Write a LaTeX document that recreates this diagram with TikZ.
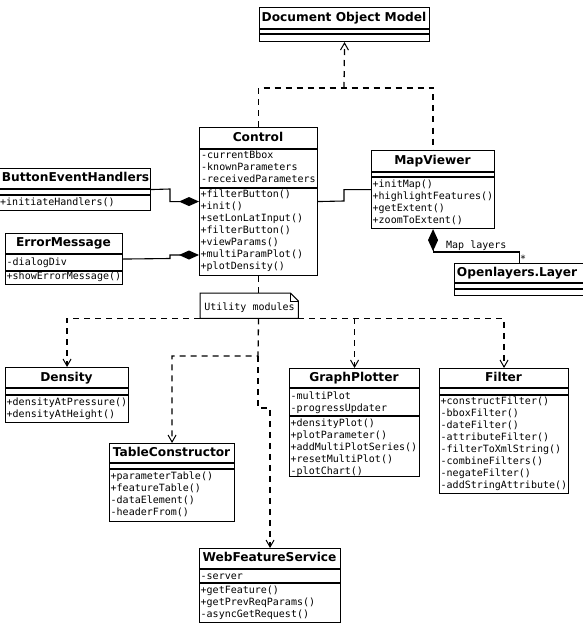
\documentclass[tikz,border=0pt]{standalone}
\usepackage{fontspec}
\setmainfont{DejaVu Sans}
\newfontfamily\monofam{DejaVu Sans Mono}
\usetikzlibrary{arrows.meta,calc}
\tikzset{
  clsbox/.style={draw, line width=1.1pt, inner sep=0pt, anchor=north west},
  ttl/.style={font=\fontsize{12.2}{13}\selectfont\bfseries, inner sep=0pt, text height=9pt, text depth=2.5pt},
  mem/.style={font=\monofam\fontsize{10}{11}\selectfont, inner sep=0pt, anchor=west, text height=7.2pt, text depth=2.2pt},
  div/.style={line width=1.1pt},
  dep/.style={line width=1.3pt, dash pattern=on 6pt off 5pt},
  deparrow/.style={-{Straight Barb[length=7pt,width=8pt,line width=1pt]}},
  comp/.style={line width=1.1pt},
}
\begin{document}
\begin{tikzpicture}[x=1pt,y=-1pt]
\useasboundingbox (0,0) rectangle (582,623);

% Document Object Model
\node[clsbox, minimum width=170pt, minimum height=34pt] (dom) at (259,7) {};
\node[ttl] (dom-t) at (344,18) {Document Object Model};
\draw[div] (dom.west |- 0,29) -- (dom.east |- 0,29);
\draw[div] (dom.west |- 0,34) -- (dom.east |- 0,34);

% Control
\node[clsbox, minimum width=118pt, minimum height=148pt] (ctrl) at (199,127) {};
\node[ttl] (ctrl-t) at (258,138) {Control};
\draw[div] (ctrl.west |- 0,149) -- (ctrl.east |- 0,149);
\draw[div] (ctrl.west |- 0,188) -- (ctrl.east |- 0,188);
\foreach [count=\i] \t in {-currentBbox,-knownParameters,-receivedParameters}
  \node[mem] (ctrl-a\i) at (201,{144+12*\i}) {\t};
\foreach [count=\i] \t in {+filterButton(),+init(),+setLonLatInput(),+filterButton(),+viewParams(),+multiParamPlot(),+plotDensity()}
  \node[mem] (ctrl-m\i) at (200.5,{183+12*\i}) {\t};

% ButtonEventHandlers
\node[clsbox, minimum width=152pt, minimum height=42pt] (beh) at (-2,168) {};
\node[ttl] (beh-t) at (75.5,178) {ButtonEventHandlers};
\draw[div] (beh.west |- 0,189) -- (beh.east |- 0,189);
\draw[div] (beh.west |- 0,195) -- (beh.east |- 0,195);
\node[mem] (beh-m1) at (0,203) {+initiateHandlers()};

% ErrorMessage
\node[clsbox, minimum width=117pt, minimum height=51pt] (em) at (5,233) {};
\node[ttl] (em-t) at (63.5,243.5) {ErrorMessage};
\draw[div] (em.west |- 0,254) -- (em.east |- 0,254);
\draw[div] (em.west |- 0,271) -- (em.east |- 0,271);
\node[mem] (em-a1) at (6.5,262.5) {-dialogDiv};
\node[mem] (em-m1) at (6.5,277) {+showErrorMessage()};

% MapViewer
\node[clsbox, minimum width=123pt, minimum height=78pt] (mv) at (371,150) {};
\node[ttl] (mv-t) at (432.5,161) {MapViewer};
\draw[div] (mv.west |- 0,172) -- (mv.east |- 0,172);
\draw[div] (mv.west |- 0,177) -- (mv.east |- 0,177);
\foreach [count=\i] \t in {+initMap(),+highlightFeatures(),+getExtent(),+zoomToExtent()}
  \node[mem] (mv-m\i) at (372.5,{173+12*\i}) {\t};

% Openlayers.Layer
\node[clsbox, minimum width=130pt, minimum height=32pt] (ol) at (454,263) {};
\node[ttl] (ol-t) at (517,273) {Openlayers.Layer};
\draw[div] (ol.west |- 0,283) -- (ol.east |- 0,283);
\draw[div] (ol.west |- 0,289) -- (ol.east |- 0,289);

% Note
\node[minimum width=98pt, minimum height=25pt, inner sep=0pt, anchor=north west] (note) at (200,293) {};
\draw[line width=1pt] (note.north west) -- ($(note.north east)+(-8,0)$) -- ($(note.north east)+(0,8)$) -- (note.south east) -- (note.south west) -- cycle;
\draw[line width=0.7pt] ($(note.north east)+(-8,0)$) -- ($(note.north east)+(-8,8)$) -- ($(note.north east)+(0,8)$);
\node[mem, anchor=center] (note-t) at (249.5,308) {Utility modules};

% Density
\node[clsbox, minimum width=123pt, minimum height=55pt] (den) at (5,367) {};
\node[ttl] (den-t) at (66.5,378) {Density};
\draw[div] (den.west |- 0,388) -- (den.east |- 0,388);
\draw[div] (den.west |- 0,395) -- (den.east |- 0,395);
\node[mem] (den-m1) at (6.5,403) {+densityAtPressure()};
\node[mem] (den-m2) at (6.5,414.5) {+densityAtHeight()};

% GraphPlotter
\node[clsbox, minimum width=130pt, minimum height=108pt] (gp) at (289,368) {};
\node[ttl] (gp-t) at (354,378) {GraphPlotter};
\draw[div] (gp.west |- 0,388) -- (gp.east |- 0,388);
\draw[div] (gp.west |- 0,416) -- (gp.east |- 0,416);
\node[mem] (gp-a1) at (290.5,397) {-multiPlot};
\node[mem] (gp-a2) at (290.5,408.5) {-progressUpdater};
\foreach [count=\i] \t in {+densityPlot(),+plotParameter(),+addMultiPlotSeries(),+resetMultiPlot(),-plotChart()}
  \node[mem] (gp-m\i) at (290.5,{412.5+11.8*\i}) {\t};

% Filter
\node[clsbox, minimum width=129pt, minimum height=125pt] (fil) at (439,368) {};
\node[ttl] (fil-t) at (503.5,378) {Filter};
\draw[div] (fil.west |- 0,388) -- (fil.east |- 0,388);
\draw[div] (fil.west |- 0,395) -- (fil.east |- 0,395);
\foreach [count=\i] \t in {+constructFilter(),-bboxFilter(),-dateFilter(),-attributeFilter(),-filterToXmlString(),-combineFilters(),-negateFilter(),-addStringAttribute()}
  \node[mem] (fil-m\i) at (440.5,{390+12*\i}) {\t};

% TableConstructor
\node[clsbox, minimum width=125pt, minimum height=78pt] (tc) at (109,443) {};
\node[ttl] (tc-t) at (171.5,453) {TableConstructor};
\draw[div] (tc.west |- 0,463) -- (tc.east |- 0,463);
\draw[div] (tc.west |- 0,469) -- (tc.east |- 0,469);
\foreach [count=\i] \t in {+parameterTable(),+featureTable(),-dataElement(),-headerFrom()}
  \node[mem] (tc-m\i) at (110.5,{465+12*\i}) {\t};

% WebFeatureService
\node[clsbox, minimum width=141pt, minimum height=74pt] (wfs) at (199,548) {};
\node[ttl] (wfs-t) at (269.5,558) {WebFeatureService};
\draw[div] (wfs.west |- 0,569) -- (wfs.east |- 0,569);
\draw[div] (wfs.west |- 0,583) -- (wfs.east |- 0,583);
\node[mem] (wfs-a1) at (200.5,577) {-server};
\foreach [count=\i] \t in {+getFeature(),+getPrevReqParams(),-asyncGetRequest()}
  \node[mem] (wfs-m\i) at (200.5,{579+12*\i}) {\t};

% ---- connectors ----
\coordinate (domj) at (344,88);
\draw[dep] (ctrl.north) |- (domj) -| (mv.north);
\draw[dep, deparrow] (domj) -- (dom.south);

\draw[comp, -{Diamond[length=20pt,width=9pt]}] (beh.east) -- (170,189) |- (ctrl.west);
\draw[comp, -{Diamond[length=20pt,width=9pt]}] (em.east) -- (170,258.5) |- (ctrl.west |- 0,255);
\draw[comp] (ctrl.east) -- (344,201) |- (mv.west);

\draw[comp, {Diamond[length=22pt,width=10pt]}-] (mv.south) -- (mv.south |- 0,252) -| (ol.north);
\node[mem] (lbl) at (446,246) {Map layers};
\node[mem] (mult) at (520,259.5) {*};

\draw[dep] (ctrl.south) -- (ctrl.south |- note.north);
\coordinate (nb) at (ctrl.south |- note.south);
\draw[dep, deparrow] (note.south west) -| (den.north);
\draw[dep, deparrow] (note.south east) -| (fil.north);
\draw[dep, deparrow] (gp.north |- note.south) -- (gp.north);
\coordinate (tcj) at (258,356);
\coordinate (wj) at (258,408);
\draw[dep, deparrow] (nb) -- (tcj) -| (tc.north);
\draw[dep, deparrow] (tcj) -- (wj) -| (wfs.north);
\end{tikzpicture}
\end{document}
